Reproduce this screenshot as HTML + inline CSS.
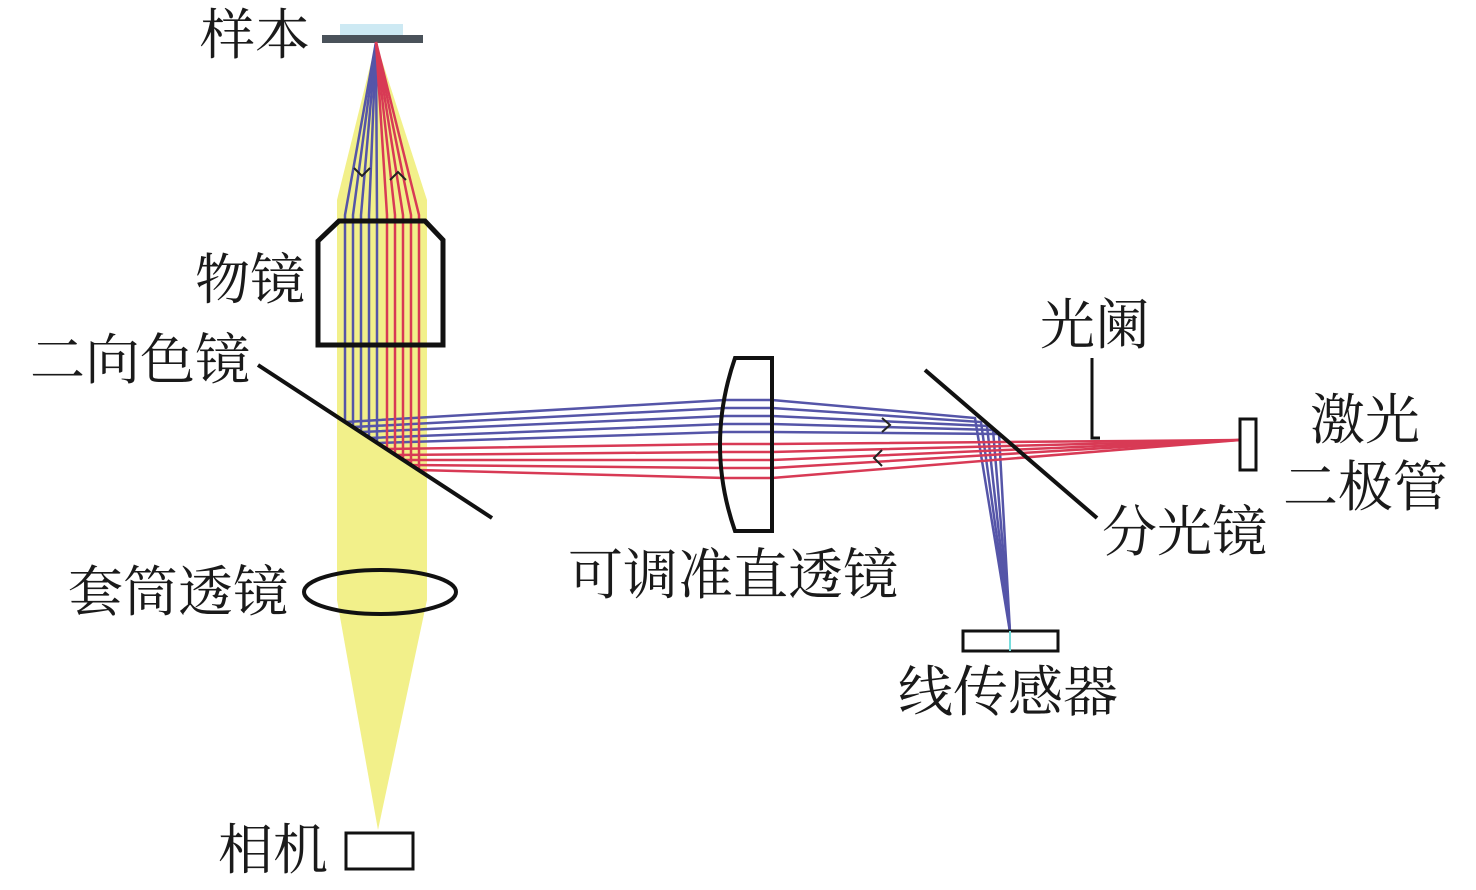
<!DOCTYPE html>
<html><head><meta charset="utf-8"><style>
html,body{margin:0;padding:0;background:#fff;}
svg{display:block}
text{font-family:"Liberation Serif","Noto Serif CJK SC",serif;font-size:55px;fill:#1a1a1a}
</style></head><body>
<svg width="1476" height="890" viewBox="0 0 1476 890" xmlns="http://www.w3.org/2000/svg">
<polygon points="376,42 337,200 337,600 378,830 427,600 427,200" fill="#f2f08a"/>
<rect x="340" y="24" width="63" height="11" fill="#cde9f3"/>
<rect x="322" y="35" width="101" height="8" fill="#4a525a"/>
<g fill="none" stroke-width="2.5">
<g stroke="#5555a8">
<polyline points="376,42 345,215 345,422 725,400 772,400 975,418 1010,632"/>
<polyline points="376,42 353,215 353,427 725,408 772,408 981,422 1010,632"/>
<polyline points="376,42 361,215 361,432 725,416 772,416 987,426 1010,632"/>
<polyline points="376,42 369,215 369,438 725,424 772,424 993,430 1010,632"/>
<polyline points="376,42 377,215 377,443 725,432 772,432 999,434 1010,632"/>
</g>
<g stroke="#d83a55">
<polyline points="376,42 387,215 387,449 725,444 772,444 1240,440"/>
<polyline points="376,42 395,215 395,455 725,452 772,452 1240,440"/>
<polyline points="376,42 403,215 403,460 725,460 772,460 1240,440"/>
<polyline points="376,42 411,215 411,465 725,468 772,468 1240,440"/>
<polyline points="376,42 419,215 419,470 725,478 772,478 1240,440"/>
</g>
<g stroke="#222" stroke-width="2">
<polyline points="354,168 362,176 370,168"/>
<polyline points="390,180 398,172 406,180"/>
<polyline points="882,418 890,425 882,432"/>
<polyline points="882,450 874,458 882,466"/>
</g>
</g>
<polygon points="318,241 339,221 425,221 443,240 443,345 318,345" fill="none" stroke="#111" stroke-width="5"/>
<line x1="258" y1="365" x2="492" y2="518" stroke="#111" stroke-width="4"/>
<ellipse cx="380" cy="592" rx="76" ry="22" fill="none" stroke="#111" stroke-width="4"/>
<rect x="346" y="833" width="67" height="36" fill="#fff" stroke="#111" stroke-width="3"/>
<path d="M735,358 L772,358 L772,531 L735,531 Q705,445 735,358 Z" fill="none" stroke="#111" stroke-width="4"/>
<line x1="925" y1="370" x2="1097" y2="518" stroke="#111" stroke-width="4"/>
<polyline points="1092,358 1092,438 1100,438" fill="none" stroke="#111" stroke-width="3"/>
<rect x="1240" y="419" width="16" height="51" fill="#fff" stroke="#111" stroke-width="3"/>
<rect x="963" y="631" width="95" height="20" fill="#fff" stroke="#111" stroke-width="3"/>
<line x1="1010" y1="631" x2="1010" y2="651" stroke="#7dd" stroke-width="2"/>
<text x="200" y="54">样本</text>
<text x="195" y="299">物镜</text>
<text x="30" y="379">二向色镜</text>
<text x="68" y="611">套筒透镜</text>
<text x="218" y="869">相机</text>
<text x="568" y="594">可调准直透镜</text>
<text x="1040" y="344">光阑</text>
<text x="1310" y="439">激光</text>
<text x="1283" y="506">二极管</text>
<text x="1102" y="551">分光镜</text>
<text x="898" y="711">线传感器</text>
</svg>
</body></html>
